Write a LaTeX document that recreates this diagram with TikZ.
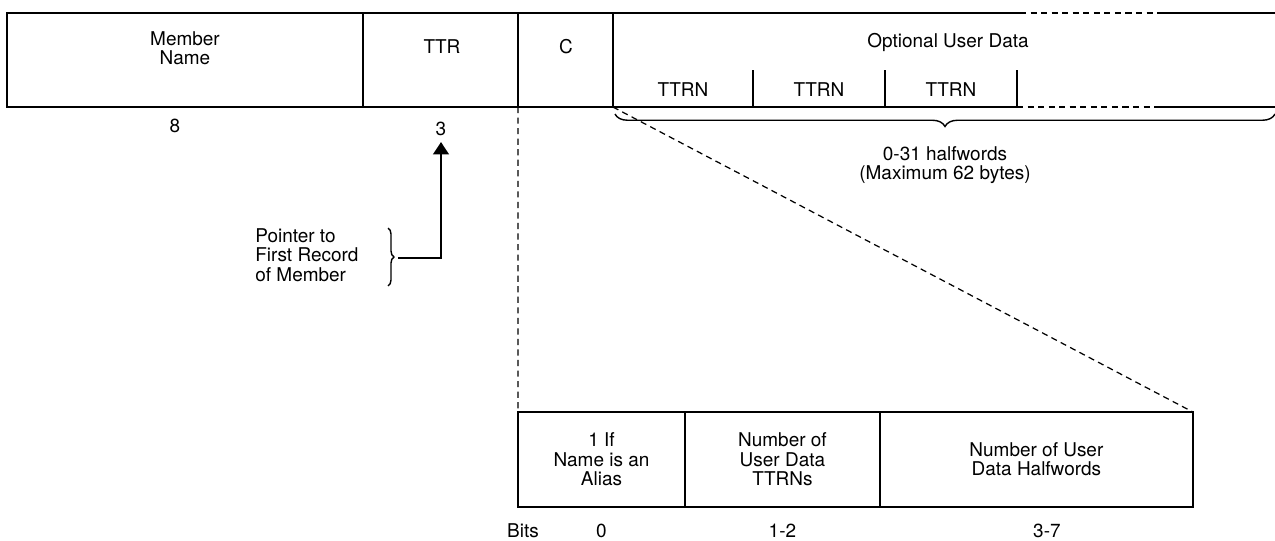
\documentclass[tikz,border=0pt]{standalone}
\usepackage{fontspec}
\setmainfont{TeX Gyre Heros}
\usetikzlibrary{arrows.meta,positioning,decorations.pathreplacing}

\begin{document}
\begin{tikzpicture}[
  x=0.02cm, y=-0.02cm,
  >={Triangle[width=9pt,length=7pt]},
  font=\fontsize{10.8}{11}\selectfont,
  field/.style={draw, line width=0.9pt, inner sep=0pt, outer sep=0pt, align=center, anchor=north west, minimum height=1.88cm},
  rec/.style={line width=0.9pt},
  guide/.style={line width=0.7pt, dash pattern=on 3.5pt off 2.5pt},
  txt/.style={align=center, inner sep=1pt},
  brc/.style={decorate, line width=0.8pt}
]
\useasboundingbox (0,0) rectangle (1275,541);

% directory entry
\node[field, minimum width=7.12cm] (name) at (7,13) {};
\node[field, minimum width=3.1cm, right=0pt of name.north east, anchor=north west] (ttr) {};
\node[field, minimum width=1.9cm, right=0pt of ttr.north east, anchor=north west] (cfld) {};
\node[txt] (nametxt) at (185,48) {Member\\Name};
\node[txt] (ttrtxt) at (442,47) {TTR};
\node[txt] (ctxt) at (566,47) {C};
\node[txt] (optxt) at (948,42) {Optional User Data};

% open user data area
\coordinate (topa) at (1020,13);
\coordinate (topb) at (1160,13);
\coordinate (topc) at (1275,13);
\coordinate (bota) at (1017,107);
\coordinate (botb) at (1160,107);
\coordinate (botc) at (1275,107);
\draw[rec] (cfld.north east) -- (topa);
\draw[guide] (topa) -- (topb);
\draw[rec] (topb) -- (topc);
\draw[rec] (cfld.south east) -- (bota);
\draw[guide] (bota) -- (botb);
\draw[rec] (botb) -- (botc);
\foreach \x/\n in {683/1, 819/2, 951/3}
  \node[txt] (ttrn\n) at (\x,90) {TTRN};
\foreach \x in {753, 885, 1017}
  \draw[rec] (\x,70) -- (\x,107);

\node (len8) at (175,126) {8};
\node (len3) at (441,129) {3};

% user data length
\coordinate (bl) at (615,114);
\coordinate (br) at (1275,114);
\draw[brc, decoration={brace, mirror, amplitude=0.25cm}] (bl) -- (br);
\node[txt] (hwtxt) at (945,165) {0-31 halfwords\\(Maximum 62 bytes)};

% pointer note
\node[align=left, anchor=west, inner sep=0pt] (ptrtxt) at (255,255) {Pointer to\\First Record\\of Member};
\coordinate (pb1) at (388,228);
\coordinate (pb2) at (388,286);
\draw[brc, decoration={brace, amplitude=0.12cm}] (pb1) -- (pb2);
\coordinate (ptip) at (398,258);
\draw[->, line width=0.9pt] (ptip) -| (len3.south);

% flag byte
\node[field, minimum width=3.34cm, minimum height=1.9cm] (alias) at (518,412) {1 If\\Name is an\\Alias};
\node[field, minimum width=3.9cm, minimum height=1.9cm, right=0pt of alias.north east, anchor=north west] (ttrns) {Number of\\User Data\\TTRNs};
\node[field, minimum width=6.26cm, minimum height=1.9cm, right=0pt of ttrns.north east, anchor=north west] (halfw) {Number of User\\Data Halfwords};
\draw[guide] (cfld.south west) -- (alias.north west);
\draw[guide] (cfld.south east) -- (halfw.north east);

\node[below=0.22cm of alias] (bit0) {0};
\node[below=0.22cm of ttrns] (bit12) {1-2};
\node[below=0.22cm of halfw, xshift=6pt] (bit37) {3-7};
\node[left=0.9cm of bit0] (bits) {Bits};
\end{tikzpicture}
\end{document}
